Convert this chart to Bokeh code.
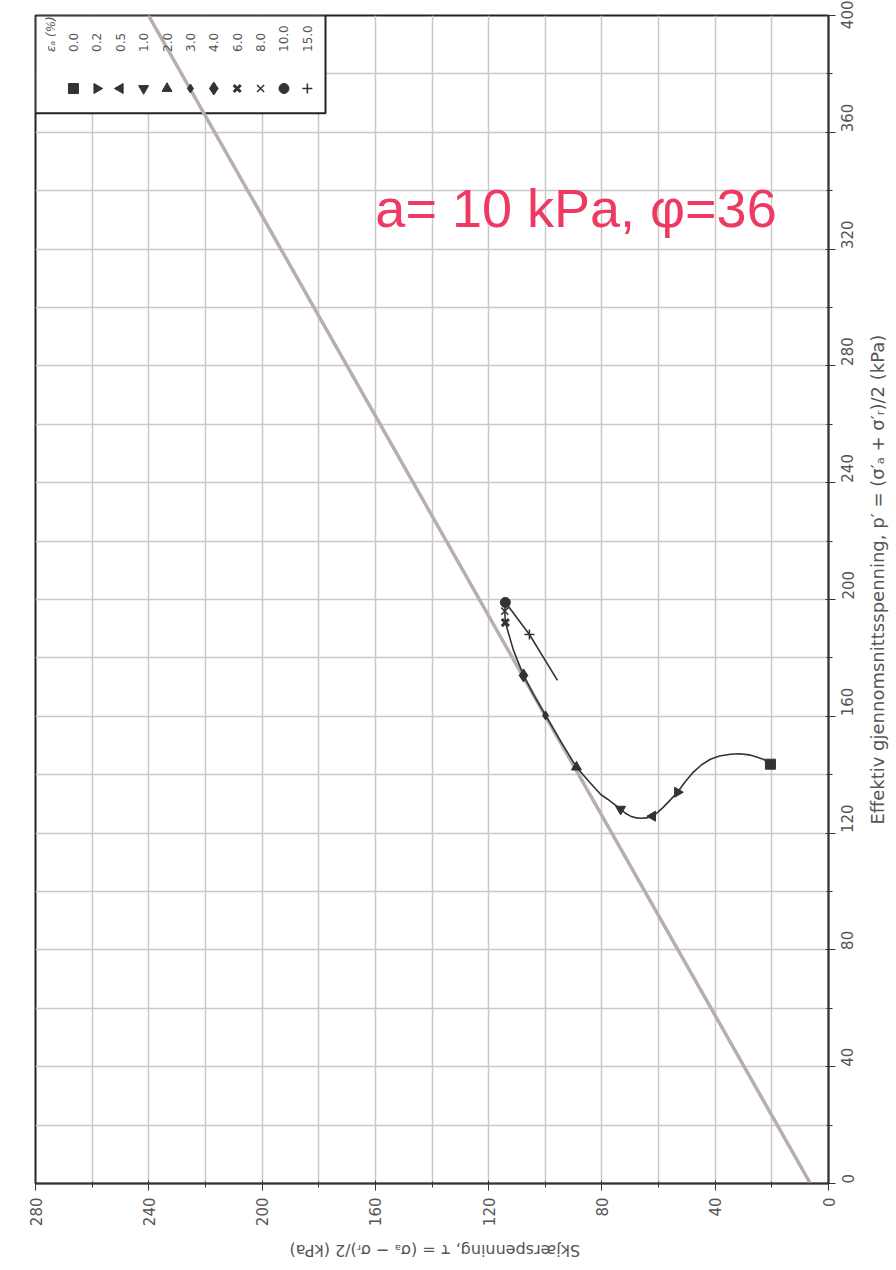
import math
from bokeh.plotting import figure
from bokeh.layouts import column, row
from bokeh.models import Range1d, FixedTicker, Label, ColumnDataSource
from bokeh.core.properties import value
from bokeh.embed import file_html
from bokeh.resources import INLINE

# ---------------- data ----------------
# stress path: shear stress tau (kPa) vs effective mean stress p' (kPa)
tau_path = [20.5, 22.8, 25.1, 28.0, 31.5, 34.6, 38.5, 41.7, 44.8, 47.7, 50.6, 53.3, 56.0, 58.3,
            60.3, 62.1, 64.3, 66.4, 68.2, 69.9, 71.7, 73.4, 75.8, 78.0, 80.5, 84.5, 89.0,
            94.5, 99.9, 104.0, 107.7, 111.2, 114.1, 114.3, 114.1, 105.6, 95.7]
p_path = [143.6, 145.2, 146.0, 146.8, 147.2, 147.0, 146.4, 145.3, 143.4, 140.9, 137.6, 134.0, 131.2,
          128.9, 127.1, 125.8, 125.2, 125.1, 125.3, 125.8, 126.8, 128.2, 130.0, 131.6, 133.3, 137.6,
          142.6, 151.3, 160.3, 167.2, 174.0, 182.5, 192.1, 196.0, 199.0, 188.0, 172.3]

# markers at given axial strains
strain_labels = ["0.0", "0.2", "0.5", "1.0", "2.0", "3.0", "4.0", "6.0", "8.0", "10.0", "15.0"]
tau_mark = [20.5, 53.3, 62.1, 73.4, 89.0, 99.9, 107.7, 114.1, 114.3, 114.1, 105.6]
p_mark = [143.6, 134.0, 125.8, 128.2, 142.6, 160.3, 174.0, 192.1, 196.0, 199.0, 188.0]

# failure line a = 10 kPa, phi = 36
tau_fail = [6.4, 240.1]
p_fail = [0.0, 400.0]

x_ticks = [0, 40, 80, 120, 160, 200, 240, 280]
y_ticks = [0, 40, 80, 120, 160, 200, 240, 280, 320, 360, 400]

x_title = "Skjærspenning, τ = (σₐ − σᵣ)/2 (kPa)"
y_title = "Effektiv gjennomsnittsspenning, p′ = (σ′ₐ + σ′ᵣ)/2 (kPa)"

# ---------------- styles ----------------
marker_types = ["square", "triangle", "triangle", "inverted_triangle", "triangle",
                "diamond", "diamond", "x", "x", "circle", "cross"]
marker_angles = [0, -math.pi / 2, math.pi / 2, 0, 0, 0, 0, 0, 0, 0, 0]
marker_sizes = [10, 10, 10, 10, 10, 9, 13, 10, 10, 10, 10]
marker_lw = [1, 1, 1, 1, 1, 1, 1, 3, 1.5, 1, 1.5]

DARK = "#333333"
GREY_TXT = "#555555"

p = figure(width=866, height=1229, output_backend="svg", toolbar_location=None,
           x_range=Range1d(280, 0), y_range=Range1d(0, 400),
           y_axis_location="right",
           min_border_left=35, min_border_right=38, min_border_top=15, min_border_bottom=44)
p.background_fill_color = "white"
p.border_fill_color = "white"
p.outline_line_color = "#222222"
p.outline_line_width = 2

p.xaxis.ticker = FixedTicker(ticks=x_ticks, minor_ticks=[20, 60, 100, 140, 180, 220, 260])
p.yaxis.ticker = FixedTicker(ticks=y_ticks, minor_ticks=[20, 60, 100, 140, 180, 220, 260, 300, 340, 380])

for g in (p.xgrid, p.ygrid):
    g.grid_line_color = "#c8c8c8"
    g.grid_line_width = 1.5
    g.minor_grid_line_color = "#c8c8c8"
    g.minor_grid_line_width = 1.5

for ax in (p.xaxis, p.yaxis):
    ax.axis_line_color = "#333333"
    ax.axis_line_width = 1.5
    ax.major_tick_line_color = "#333333"
    ax.minor_tick_line_color = "#333333"
    ax.major_tick_in = 3
    ax.major_tick_out = 7
    ax.minor_tick_in = 2
    ax.minor_tick_out = 4
    ax.major_label_orientation = math.pi / 2
    ax.major_label_text_font = "DejaVu Sans"
    ax.major_label_text_font_size = "15px"
    ax.major_label_text_color = GREY_TXT
p.xaxis.major_label_standoff = 7
p.yaxis.major_label_standoff = 12

# legend box (drawn first so the failure line crosses it)
LEG_L, LEG_R, LEG_T, LEG_B = 280, 177.6, 400, 366.5
p.quad(left=[LEG_L], right=[LEG_R], top=[LEG_T], bottom=[LEG_B],
       fill_color="white", line_color="#222222", line_width=2)

# failure line
p.line(tau_fail, p_fail, line_color="#b8aeaa", line_width=3.5)

# stress path
p.line(tau_path, p_path, line_color=DARK, line_width=1.6)

src = ColumnDataSource(dict(x=tau_mark, y=p_mark, marker=marker_types, angle=marker_angles,
                            size=marker_sizes, lw=marker_lw))
p.scatter(x="x", y="y", marker="marker", angle="angle", size="size", line_width="lw",
          source=src, fill_color=DARK, line_color=DARK)

# legend contents (rotated, as in the picture)
n = len(strain_labels)
leg_x = [266.6 - 8.26 * i for i in range(n)]
leg_src = dict(x=leg_x, y=[375.0] * n, marker=marker_types, angle=marker_angles,
               size=marker_sizes, lw=marker_lw)
p.scatter(x="x", y="y", marker="marker", angle="angle", size="size", line_width="lw",
          source=ColumnDataSource(leg_src), fill_color=DARK, line_color=DARK)
p.text(x=leg_x, y=[387.5] * n, text=strain_labels, angle=math.pi / 2,
       text_align="left", text_baseline="middle", text_font=value("DejaVu Sans"),
       text_font_size="12px", text_color=GREY_TXT)
p.text(x=[274.7], y=[387.5], text=["εₐ (%)"], angle=math.pi / 2,
       text_align="left", text_baseline="middle", text_font=value("DejaVu Sans"),
       text_font_size="12px", text_font_style="italic", text_color=GREY_TXT)

# annotation
p.add_layout(Label(x=160, y=334, text="a= 10 kPa, φ=36", text_font="Liberation Sans",
                   text_font_size="54px", text_color="#ee3a62", text_align="left",
                   text_baseline="alphabetic"))

# ---- axis titles, rotated as in the picture (in slim companion figures) ----
rt = figure(width=30, height=1229, output_backend="svg", toolbar_location=None,
            x_range=Range1d(0, 1), y_range=p.y_range,
            x_axis_location=None, y_axis_location=None,
            min_border_left=0, min_border_right=0, min_border_top=15, min_border_bottom=44)
rt.outline_line_color = None
rt.grid.visible = False
rt.text(x=[0.38], y=[206.8], text=[y_title], angle=math.pi / 2, text_align="center",
        text_baseline="middle", text_font=value("DejaVu Sans"), text_font_size="18px",
        text_color=GREY_TXT)

bt = figure(width=866, height=39, output_backend="svg", toolbar_location=None,
            x_range=p.x_range, y_range=Range1d(0, 1),
            x_axis_location=None, y_axis_location=None,
            min_border_left=35, min_border_right=38, min_border_top=0, min_border_bottom=0)
bt.outline_line_color = None
bt.grid.visible = False
bt.text(x=[139], y=[0.46], text=[x_title], angle=math.pi, text_align="center",
        text_baseline="middle", text_font=value("DejaVu Sans"), text_font_size="16px",
        text_color=GREY_TXT)

layout = column(row(p, rt), bt)
open("out.html", "w").write(file_html(layout, INLINE))
